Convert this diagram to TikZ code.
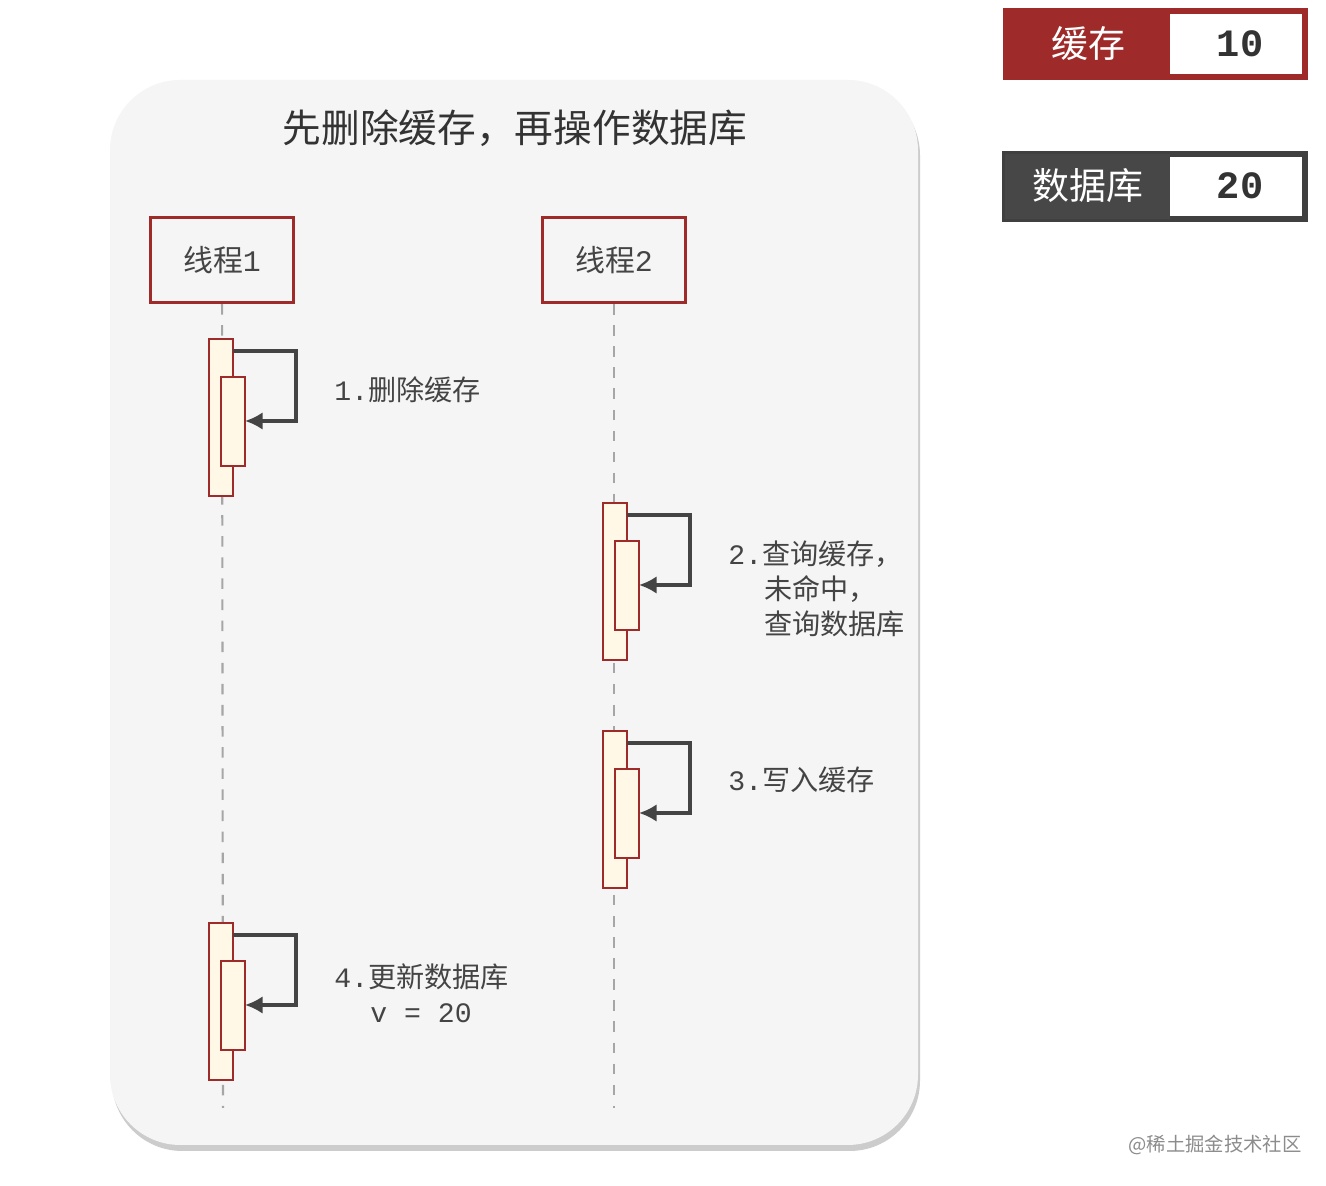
\documentclass[tikz,border=0pt]{standalone}
\usepackage{fontspec}
\setmainfont{Noto Sans CJK SC}
\newfontfamily\cjk{Noto Sans CJK SC}
\newfontfamily\mono{Liberation Mono}
\usetikzlibrary{shadows,arrows.meta}
\definecolor{dred}{HTML}{9E2A2A}
\definecolor{txt}{HTML}{444444}
\definecolor{cream}{HTML}{FFF8E6}
\begin{document}
\begin{tikzpicture}[x=0.01cm,y=-0.01cm,
  thr/.style={draw=dred,line width=0.9pt,fill=none,minimum width=1.43cm,minimum height=0.85cm,font=\fontsize{8.5}{10}\selectfont,text=txt},
  act/.style={draw=dred,line width=0.8pt,fill=cream},
  lbl/.style={text=txt,font=\fontsize{8}{10}\selectfont,anchor=west},
  loop/.style={draw=txt,line width=0.9pt,-{Latex[length=5pt,width=5pt]}},
  life/.style={draw=gray!70,dashed,line width=0.6pt}]
\useasboundingbox (0,0) rectangle (1326,1186);
\fill[white] (0,0) rectangle (1326,1186);
\fill[black!20,rounded corners=20pt] (112,85) rectangle (920,1151);
\fill[black!4,rounded corners=20pt] (110,80) rectangle (918,1145);
\node[text=black!80,font=\fontsize{11}{12}\selectfont] (title) at (515,128) {先删除缓存，再操作数据库};
\node[thr] (t1) at (222,260) {线程{\mono 1}};
\node[thr] (t2) at (614,260) {线程{\mono 2}};
\coordinate (e1) at (223,1108); \coordinate (e2) at (614,1108);
\draw[life] (t1) -- (e1);
\draw[life] (t2) -- (e2);
\foreach \x/\y/\lx in {209/339/296, 603/503/690, 603/731/690, 209/923/296}{
  \draw[act] (\x,\y) rectangle ++(24,157);
  \draw[act] (\x+12,\y+38) rectangle ++(24,89);
  \draw[loop] (\x+24,\y+12) -- (\lx,\y+12) -- (\lx,\y+82) -- (\x+36,\y+82);
}
\node[lbl] (l1) at (322,390) {{\mono 1.}删除缓存};
\node[lbl,align=left] (l2) at (716,589) {{\mono 2.}查询缓存，\\\hspace*{0.36cm}未命中，\\\hspace*{0.36cm}查询数据库};
\node[lbl] (l3) at (716,780) {{\mono 3.}写入缓存};
\node[lbl,align=left] (l4) at (322,993) {{\mono 4.}更新数据库\\\hspace*{0.36cm}{\mono v = 20}};
% top right
\draw[line width=1.5pt,draw=dred,fill=white] (1006,11) rectangle (1305,77);
\fill[dred] (1006,11) rectangle (1170,77);
\node[text=white,font=\fontsize{10.5}{12}\selectfont] (c) at (1088,44) {缓存};
\node[font=\mono\bfseries\fontsize{11}{12}\selectfont,text=black!80] (cv) at (1240,44) {10};
\draw[line width=1.5pt,draw=black!75,fill=white] (1005,154) rectangle (1305,219);
\fill[black!72] (1005,154) rectangle (1170,219);
\node[text=white,font=\fontsize{10.5}{12}\selectfont] (d) at (1088,186) {数据库};
\node[font=\mono\bfseries\fontsize{11}{12}\selectfont,text=black!80] (dv) at (1240,186) {20};
\node[text=black!45,font=\fontsize{5.5}{6}\selectfont] (wm) at (1215,1145) {@稀土掘金技术社区};
\end{tikzpicture}
\end{document}
